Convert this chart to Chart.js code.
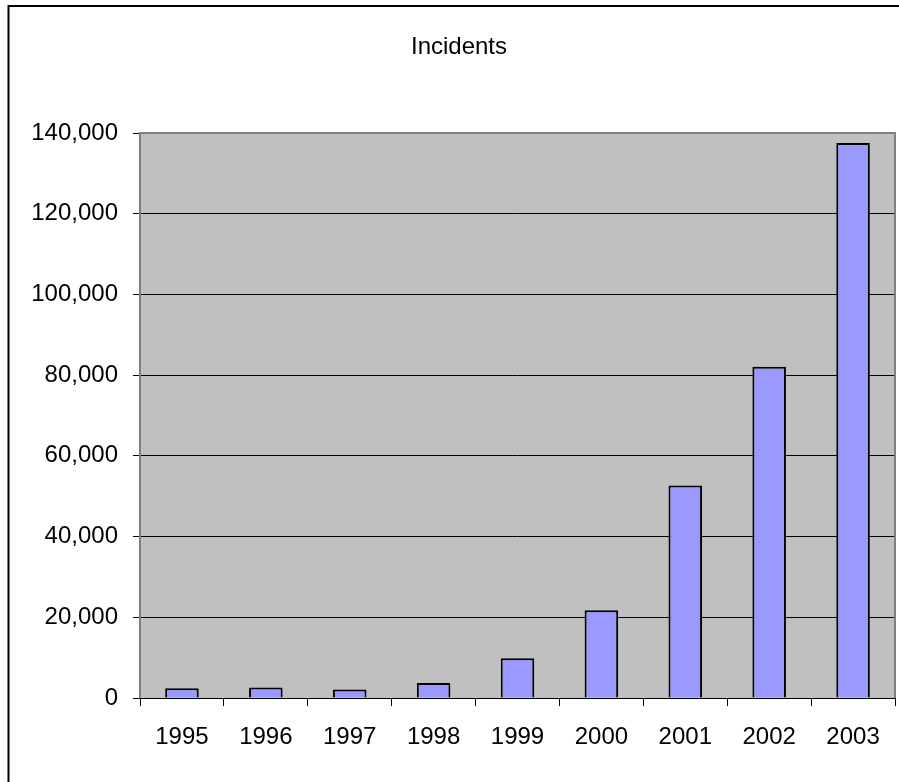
<!DOCTYPE html>
<html>
<head>
<meta charset="utf-8">
<script src="https://cdn.jsdelivr.net/npm/chart.js@4"></script>
<style>
  html, body { margin: 0; padding: 0; background: #fff; }
  #wrap { width: 899px; height: 782px; position: relative; }
</style>
</head>
<body>
<div id="wrap"><canvas id="chart"></canvas></div>
<script>
// Data
const years = ["1995", "1996", "1997", "1998", "1999", "2000", "2001", "2002", "2003"];
const incidents = [2412, 2573, 2134, 3734, 9859, 21756, 52658, 82094, 137529];
const yTicks = [0, 20000, 40000, 60000, 80000, 100000, 120000, 140000];
const chartTitle = "Incidents";

const FONT = "'Liberation Sans', Arial, sans-serif";

// grey plot area, outer frame and title, Excel style
const excelLook = {
    id: "excelLook",
    beforeDraw(chart) {
        const ctx = chart.ctx, a = chart.chartArea;
        ctx.save();
        ctx.fillStyle = "#fff";
        ctx.fillRect(0, 0, chart.width, chart.height);
        ctx.fillStyle = "#C0C0C0";
        ctx.fillRect(a.left, a.top, a.right - a.left, a.bottom - a.top);
        ctx.strokeStyle = "#000";
        ctx.lineWidth = 2;
        ctx.strokeRect(8.5, 6, chart.width + 20, chart.height + 20);
        // title is centred on the whole (cropped) Excel chart, not the canvas
        ctx.fillStyle = "#000";
        ctx.font = "24px " + FONT;
        ctx.textAlign = "center";
        ctx.textBaseline = "middle";
        ctx.fillText(chartTitle, 459, 47);
        ctx.restore();
    },
    beforeDatasetsDraw(chart) {
        const ctx = chart.ctx, a = chart.chartArea;
        ctx.save();
        ctx.strokeStyle = "#808080";
        ctx.lineWidth = 2;
        ctx.beginPath();
        ctx.moveTo(a.left, a.bottom);
        ctx.lineTo(a.left, a.top);
        ctx.lineTo(a.right, a.top);
        ctx.lineTo(a.right, a.bottom);
        ctx.stroke();
        ctx.restore();
    }
};

new Chart(document.getElementById("chart"), {
    type: "bar",
    data: {
        labels: years,
        datasets: [{
            data: incidents,
            backgroundColor: "#9999FF",
            borderColor: "#000",
            borderWidth: 2,
            categoryPercentage: 1,
            barPercentage: 0.4
        }]
    },
    options: {
        animation: false,
        responsive: true,
        maintainAspectRatio: false,
        layout: { padding: { left: 0, right: 4, top: 133, bottom: 0 } },
        plugins: {
            legend: { display: false },
            tooltip: { enabled: false },
            title: { display: false }
        },
        scales: {
            x: {
                grid: {
                    offset: true,
                    drawOnChartArea: false,
                    color: "#000",
                    tickLength: 8
                },
                border: { display: true, color: "#000", width: 1 },
                ticks: {
                    color: "#000",
                    padding: 17,
                    maxRotation: 0,
                    font: { family: FONT, size: 24 }
                },
                afterFit(scale) { scale.height = 84; }
            },
            y: {
                min: 0,
                max: 140000,
                afterBuildTicks(scale) { scale.ticks = yTicks.map(v => ({ value: v })); },
                grid: { color: "#000", tickLength: 7 },
                border: { display: false },
                ticks: {
                    color: "#000",
                    padding: 15,
                    font: { family: FONT, size: 24 },
                    callback: v => Number(v).toLocaleString("en-US")
                },
                afterFit(scale) { scale.width = 140; }
            }
        }
    },
    plugins: [excelLook]
});
</script>
</body>
</html>
